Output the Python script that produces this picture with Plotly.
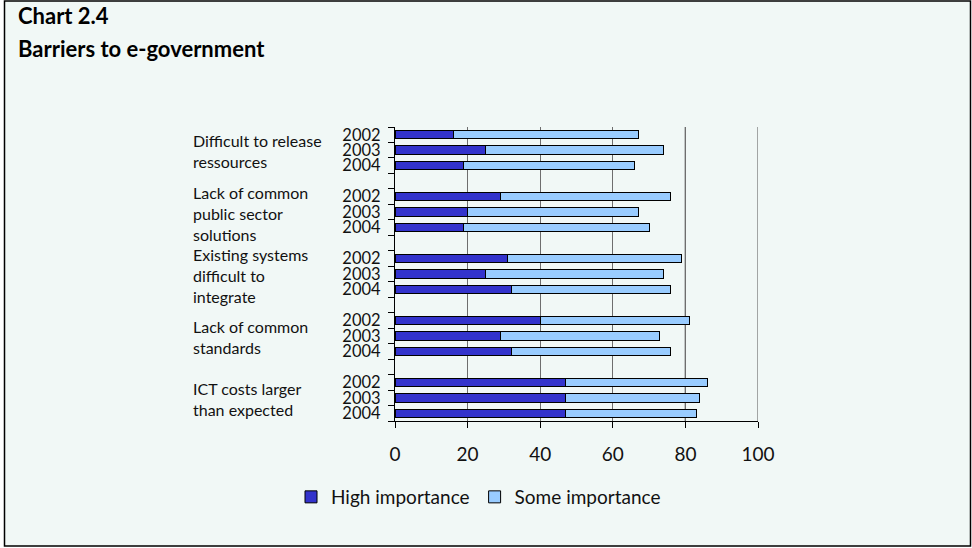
import plotly.graph_objects as go

# Survey data: share of respondents rating each barrier
categories = [
    "Difficult to release<br>ressources",
    "Lack of common<br>public sector<br>solutions",
    "Existing systems<br>difficult to<br>integrate",
    "Lack of common<br>standards",
    "ICT costs larger<br>than expected",
]
years = ["2002", "2003", "2004"]
high_importance = [
    [16, 25, 19],
    [29, 20, 19],
    [31, 25, 32],
    [40, 29, 32],
    [47, 47, 47],
]
some_importance = [
    [51, 49, 47],
    [47, 47, 51],
    [48, 49, 44],
    [41, 44, 44],
    [39, 37, 36],
]
x_ticks = [0, 20, 40, 60, 80, 100]

# Layout geometry (pixels)
W, H = 972, 548
PL, PR, PT, PB = 395, 758, 127, 421
pw, ph = PR - PL, PB - PT


def px_x(p):
    return (p - PL) / pw


def px_y(p):
    return (PB - p) / ph


FONT = "Lato, 'Open Sans', sans-serif"
BG = "#f1f8f6"
DARK = "#3333cc"
LIGHT = "#99ccff"
GRID = "#6e6e6e"

# One slot per year, plus an empty slot between groups
step = len(years) + 1
ypos, yrs, hi, so = [], [], [], []
for g in range(len(categories)):
    for k, yr in enumerate(years):
        ypos.append(g * step + k)
        yrs.append(yr)
        hi.append(high_importance[g][k])
        so.append(some_importance[g][k])
n_slots = len(categories) * step - 1

fig = go.Figure()
fig.add_trace(go.Bar(
    y=ypos, x=hi, orientation="h", name="High importance",
    marker=dict(color=DARK, line=dict(color="#000000", width=1)),
))
fig.add_trace(go.Bar(
    y=ypos, x=so, orientation="h", name="Some importance",
    marker=dict(color=LIGHT, line=dict(color="#000000", width=1)),
))

annotations = [
    dict(text="<b>Chart 2.4</b>", x=px_x(16), y=px_y(16), xref="paper", yref="paper",
         xanchor="left", yanchor="middle", showarrow=False,
         font=dict(family=FONT, size=22, color="#000000")),
    dict(text="<b>Barriers to e-government</b>", x=px_x(16), y=px_y(49), xref="paper",
         yref="paper", xanchor="left", yanchor="middle", showarrow=False,
         font=dict(family=FONT, size=22, color="#000000")),
]
for g, cat in enumerate(categories):
    annotations.append(dict(
        text=cat, x=px_x(191), y=g * step + 1, xref="paper", yref="y",
        xanchor="left", yanchor="middle", align="left", showarrow=False, yshift=-1,
        font=dict(family=FONT, size=16, color="#111111"),
    ))

shapes = [
    # chart frame
    dict(type="rect", xref="paper", yref="paper", x0=px_x(4.5), x1=px_x(970.5),
         y0=px_y(546), y1=px_y(1), fillcolor=BG, line=dict(color="#000000", width=1.5),
         layer="below"),
    # darker gridline at 80
    dict(type="line", xref="x", yref="paper", x0=x_ticks[4], x1=x_ticks[4], y0=0, y1=1,
         line=dict(color="#000000", width=1.2), layer="below"),
    # gridline at the right end of the scale
    dict(type="line", xref="x", yref="paper", x0=x_ticks[-1], x1=x_ticks[-1], y0=0, y1=1,
         line=dict(color=GRID, width=1.2), layer="below"),
]

fig.update_layout(
    width=W, height=H,
    margin=dict(l=PL, r=W - PR, t=PT, b=H - PB, autoexpand=False),
    paper_bgcolor="#ffffff", plot_bgcolor="rgba(0,0,0,0)",
    barmode="stack", bargap=0.45,
    showlegend=True,
    legend=dict(orientation="h", x=px_x(291), y=px_y(497), xanchor="left", yanchor="middle",
                font=dict(family=FONT, size=19, color="#111111"), bgcolor="rgba(0,0,0,0)",
                traceorder="normal", itemclick=False, itemwidth=30),
    annotations=annotations, shapes=shapes,
    xaxis=dict(range=[x_ticks[0], x_ticks[-1]], tickvals=x_ticks, showgrid=True,
               gridcolor=GRID, gridwidth=1, zeroline=False, showline=True,
               linecolor="#000000", linewidth=1.2, ticks="outside", ticklen=6,
               tickcolor="#000000", ticklabelstandoff=10,
               tickfont=dict(family=FONT, size=19, color="#111111")),
    yaxis=dict(range=[n_slots - 0.5, -0.5], tickvals=ypos, ticktext=yrs, showgrid=False,
               zeroline=False, showline=True, linecolor="#000000", linewidth=1.2,
               ticks="", ticklabelstandoff=10,
               minor=dict(tick0=-0.5, dtick=1, ticks="outside", ticklen=6,
                          tickcolor="#000000", showgrid=False),
               tickfont=dict(family=FONT, size=16.5, color="#111111")),
)

fig.write_html("out.html")
